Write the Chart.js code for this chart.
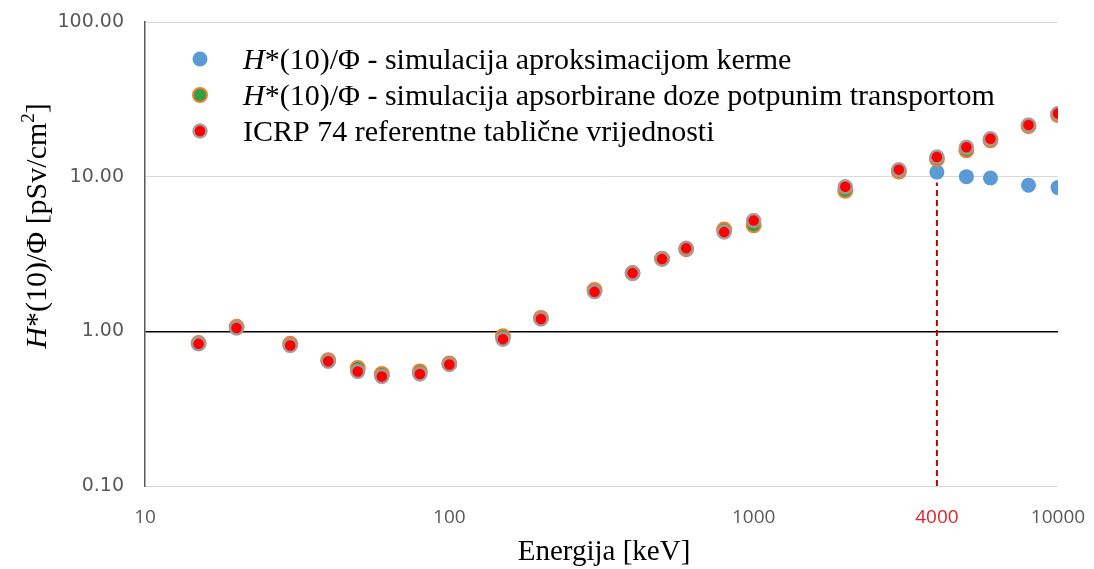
<!DOCTYPE html>
<html>
<head>
<meta charset="utf-8">
<script src="https://cdn.jsdelivr.net/npm/chart.js@4"></script>
<style>
  body { margin: 0; background: #fff; }
  #wrap { width: 1094px; height: 569px; }
</style>
</head>
<body>
<div id="wrap"><canvas id="chart" width="1094" height="569"></canvas></div>
<script>
// photon energies [keV]
var energy = [15, 20, 30, 40, 50, 60, 80, 100, 150, 200, 300, 400, 500, 600, 800, 1000, 2000, 3000, 4000, 5000, 6000, 8000, 10000];

// H*(10)/Phi [pSv cm2] - kerma approximation
var kermaSim = [0.84, 1.06, 0.82, 0.65, 0.57, 0.52, 0.54, 0.62, 0.92, 1.22, 1.84, 2.38, 2.95, 3.40, 4.50, 4.95, 8.3, 10.9, 10.7, 10.0, 9.8, 8.8, 8.5];
// H*(10)/Phi - absorbed dose, full transport
var transportSim = [0.84, 1.07, 0.83, 0.65, 0.58, 0.53, 0.55, 0.62, 0.93, 1.22, 1.85, 2.38, 2.95, 3.40, 4.55, 4.85, 8.1, 10.8, 13.0, 14.8, 17.2, 21.2, 25.0];
// ICRP 74 reference table
var icrp74 = [0.83, 1.05, 0.81, 0.64, 0.55, 0.51, 0.53, 0.61, 0.89, 1.20, 1.80, 2.38, 2.93, 3.44, 4.38, 5.20, 8.6, 11.1, 13.4, 15.5, 17.6, 21.6, 25.6];

var xTicks = [10, 100, 1000, 4000, 10000];
var yTicks = [0.1, 1, 10, 100];
var markEnergy = 4000;

var legendNames = [
    [true, '*(10)/\u03A6 - simulacija aproksimacijom kerme'],
    [true, '*(10)/\u03A6 - simulacija apsorbirane doze potpunim transportom'],
    [false, 'ICRP 74 referentne tabli\u010Dne vrijednosti']
];

function toPoints(ys) {
    return energy.map(function (e, i) { return {x: e, y: ys[i]}; });
}

// keep tick labels from pushing the plot area around
function noOverflow(scale) {
    scale.paddingTop = 0;
    scale.paddingBottom = 0;
    scale.paddingLeft = 0;
    scale.paddingRight = 0;
}

var serif = '"Liberation Serif", "Times New Roman", serif';

var blueStyle = {bg: '#5B9BD5', border: '#5B9BD5', r: 7.5, bw: 0};
var greenStyle = {bg: '#2EA043', border: '#ED7D31', r: 7, bw: 2};
var redStyle = {bg: '#FF0000', border: 'rgba(160,160,160,0.9)', r: 6.5, bw: 2.5};

// titles, legend and the dashed 4000 keV marker
var decorations = {
    id: 'decorations',
    afterDatasetsDraw: function (chart) {
        var ctx = chart.ctx;
        var xs = chart.scales.x, ys = chart.scales.y;

        // dashed vertical line down from the kerma point at 4000 keV
        var idx = energy.indexOf(markEnergy);
        var px = xs.getPixelForValue(markEnergy);
        var pyTop = ys.getPixelForValue(kermaSim[idx]) + blueStyle.r + 3;
        ctx.save();
        ctx.strokeStyle = '#C00000';
        ctx.lineWidth = 2;
        ctx.setLineDash([6, 4]);
        ctx.beginPath();
        ctx.moveTo(px, ys.bottom);
        ctx.lineTo(px, pyTop);
        ctx.stroke();
        ctx.restore();
    },
    afterDraw: function (chart) {
        var ctx = chart.ctx;
        ctx.save();
        ctx.fillStyle = '#000';
        ctx.textBaseline = 'alphabetic';

        // legend
        var styles = [blueStyle, greenStyle, redStyle];
        var rowY = [59, 95, 131];
        for (var i = 0; i < 3; i++) {
            var s = styles[i];
            ctx.beginPath();
            ctx.arc(200, rowY[i], s.r, 0, Math.PI * 2);
            ctx.fillStyle = s.bg;
            ctx.fill();
            if (s.bw) {
                ctx.lineWidth = s.bw;
                ctx.strokeStyle = s.border;
                ctx.stroke();
            }
            ctx.fillStyle = '#000';
            var tx = 243, base = rowY[i] + 10;
            if (legendNames[i][0]) {
                ctx.font = 'italic 30px ' + serif;
                ctx.fillText('H', tx, base);
                tx += ctx.measureText('H').width;
            }
            ctx.font = '30px ' + serif;
            ctx.fillText(legendNames[i][1], tx, base);
        }

        // x axis title
        ctx.font = '29px ' + serif;
        ctx.textAlign = 'center';
        ctx.fillText('Energija [keV]', 604, 560);

        // y axis title, rotated
        ctx.translate(46, 226);
        ctx.rotate(-Math.PI / 2);
        ctx.textAlign = 'left';
        var parts = [
            ['italic 30px ' + serif, 'H', 0],
            ['30px ' + serif, '*(10)/\u03A6 [pSv/cm', 0],
            ['19px ' + serif, '2', -12],
            ['30px ' + serif, ']', 0]
        ];
        var total = 0;
        parts.forEach(function (p) { ctx.font = p[0]; total += ctx.measureText(p[1]).width; });
        var cx = -total / 2;
        parts.forEach(function (p) {
            ctx.font = p[0];
            ctx.fillText(p[1], cx, p[2]);
            cx += ctx.measureText(p[1]).width;
        });
        ctx.restore();
    }
};

new Chart(document.getElementById('chart'), {
    type: 'scatter',
    data: {
        datasets: [
            {
                label: 'kerma',
                data: toPoints(kermaSim),
                backgroundColor: blueStyle.bg,
                borderColor: blueStyle.border,
                borderWidth: blueStyle.bw,
                pointRadius: blueStyle.r,
                order: 3
            },
            {
                label: 'transport',
                data: toPoints(transportSim),
                backgroundColor: greenStyle.bg,
                borderColor: greenStyle.border,
                borderWidth: greenStyle.bw,
                pointRadius: greenStyle.r,
                order: 2
            },
            {
                label: 'ICRP 74',
                data: toPoints(icrp74),
                backgroundColor: redStyle.bg,
                borderColor: redStyle.border,
                borderWidth: redStyle.bw,
                pointRadius: redStyle.r,
                order: 1
            }
        ]
    },
    options: {
        responsive: false,
        animation: false,
        layout: {padding: {top: 22, right: 36, left: 0, bottom: 0}},
        plugins: {
            legend: {display: false},
            tooltip: {enabled: false}
        },
        scales: {
            x: {
                type: 'logarithmic',
                min: 10,
                max: 10000,
                afterBuildTicks: function (scale) {
                    scale.ticks = xTicks.map(function (v) { return {value: v}; });
                },
                afterFit: function (scale) {
                    scale.height = 569 - 486;
                    noOverflow(scale);
                },
                grid: {display: false, drawTicks: false},
                border: {display: false},
                ticks: {
                    autoSkip: false,
                    maxRotation: 0,
                    padding: 20,
                    font: {family: '"Open Sans", sans-serif', size: 19},
                    color: function (c) { return c.tick && c.tick.value === markEnergy ? '#E0222A' : '#595959'; },
                    callback: function (v) { return String(v); }
                }
            },
            y: {
                type: 'logarithmic',
                min: 0.1,
                max: 100,
                afterBuildTicks: function (scale) {
                    scale.ticks = yTicks.map(function (v) { return {value: v}; });
                },
                afterFit: function (scale) {
                    scale.width = 145;
                    noOverflow(scale);
                },
                grid: {
                    drawTicks: false,
                    color: function (c) { return c.tick && c.tick.value === 1 ? '#000000' : '#D9D9D9'; },
                    lineWidth: function (c) { return c.tick && c.tick.value === 1 ? 1.5 : 1; }
                },
                border: {display: true, color: '#595959', width: 1.5},
                ticks: {
                    padding: 21,
                    font: {family: '"DejaVu Sans", sans-serif', size: 19},
                    color: '#595959',
                    callback: function (v) { return Number(v).toFixed(2); }
                }
            }
        }
    },
    plugins: [decorations]
});
</script>
</body>
</html>
